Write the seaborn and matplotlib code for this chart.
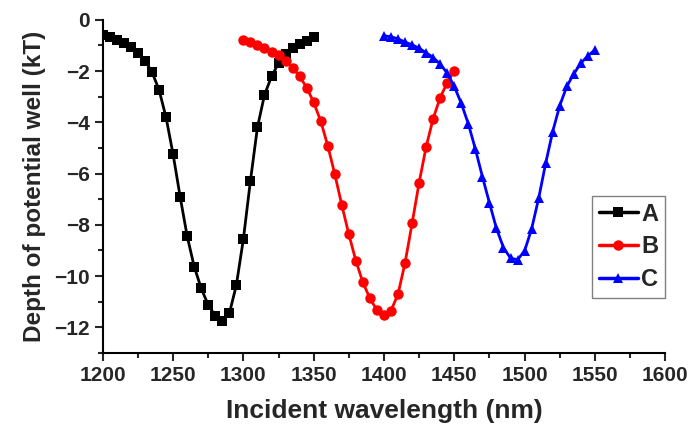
import numpy as np
import pandas as pd
import seaborn as sns
import matplotlib.pyplot as plt
from matplotlib.ticker import MultipleLocator

# wavelengths (nm) for each curve, 5 nm step
wl_a = list(range(1200, 1351, 5))
wl_b = list(range(1300, 1451, 5))
wl_c = list(range(1400, 1551, 5))

# depth of potential well (kT)
depth_a = [-0.59, -0.68, -0.78, -0.91, -1.07, -1.30, -1.59, -2.04, -2.73, -3.81,
           -5.25, -6.90, -8.44, -9.63, -10.48, -11.13, -11.55, -11.76, -11.46, -10.35,
           -8.55, -6.28, -4.19, -2.93, -2.21, -1.69, -1.34, -1.11, -0.94, -0.81, -0.68]
depth_b = [-0.78, -0.87, -0.98, -1.11, -1.24, -1.39, -1.59, -1.86, -2.21, -2.64,
           -3.22, -3.95, -4.91, -6.02, -7.23, -8.37, -9.40, -10.25, -10.87, -11.33,
           -11.52, -11.35, -10.70, -9.48, -7.94, -6.35, -4.95, -3.85, -3.03, -2.45, -1.98]
depth_c = [-0.62, -0.66, -0.74, -0.87, -0.97, -1.11, -1.28, -1.47, -1.73, -2.08,
           -2.60, -3.26, -4.06, -5.04, -6.12, -7.14, -8.14, -8.89, -9.30, -9.36,
           -9.02, -8.16, -6.97, -5.60, -4.36, -3.35, -2.60, -2.11, -1.69, -1.41, -1.17]

series_names = ["A", "B", "C"]
colors = {"A": "black", "B": "red", "C": "blue"}
markers = {"A": "s", "B": "o", "C": "^"}

df = pd.concat([
    pd.DataFrame({"wavelength": wl_a, "depth": depth_a, "curve": "A"}),
    pd.DataFrame({"wavelength": wl_b, "depth": depth_b, "curve": "B"}),
    pd.DataFrame({"wavelength": wl_c, "depth": depth_c, "curve": "C"}),
])

sns.set_style("ticks")
plt.rcParams["font.family"] = ["Liberation Sans", "DejaVu Sans"]
plt.rcParams["font.weight"] = "bold"

fig = plt.figure(figsize=(6.9, 4.32), dpi=100)
ax = fig.add_axes([0.149, 0.183, 0.815, 0.771])

sns.lineplot(data=df, x="wavelength", y="depth", hue="curve", style="curve",
             hue_order=series_names, style_order=series_names,
             palette=colors, markers=markers, dashes=False,
             linewidth=2, markersize=7.5, markeredgewidth=0,
             sort=False, estimator=None, ax=ax)

ax.set_xlim(1200, 1600)
ax.set_ylim(-13, 0)
ax.xaxis.set_major_locator(MultipleLocator(50))
ax.xaxis.set_minor_locator(MultipleLocator(25))
ax.yaxis.set_major_locator(MultipleLocator(2))
ax.yaxis.set_minor_locator(MultipleLocator(1))
ax.tick_params(which="major", length=6, width=1.5, direction="out", labelsize=15)
ax.tick_params(which="minor", length=3.5, width=1.5, direction="out")
for lab in ax.get_xticklabels() + ax.get_yticklabels():
    lab.set_fontweight("bold")

for s in ["top", "right"]:
    ax.spines[s].set_visible(False)
for s in ["left", "bottom"]:
    ax.spines[s].set_linewidth(1.5)
    ax.spines[s].set_color("black")

ax.set_xlabel("Incident wavelength (nm)", fontsize=19, fontweight="bold", labelpad=10)
ax.set_ylabel("Depth of potential well (kT)", fontsize=17.5, fontweight="bold", labelpad=6)

leg = ax.legend(title=None, loc="lower right", bbox_to_anchor=(1.0, 0.165),
                borderaxespad=0, fancybox=False, framealpha=1,
                prop={"size": 17, "weight": "bold"}, handlelength=1.65,
                handletextpad=0.15, labelspacing=0.42, borderpad=0.28)
leg.get_frame().set_edgecolor("gray")
leg.get_frame().set_linewidth(1)
for line in leg.get_lines():
    line.set_linewidth(2.5)

fig.savefig("out.png", dpi=100)
